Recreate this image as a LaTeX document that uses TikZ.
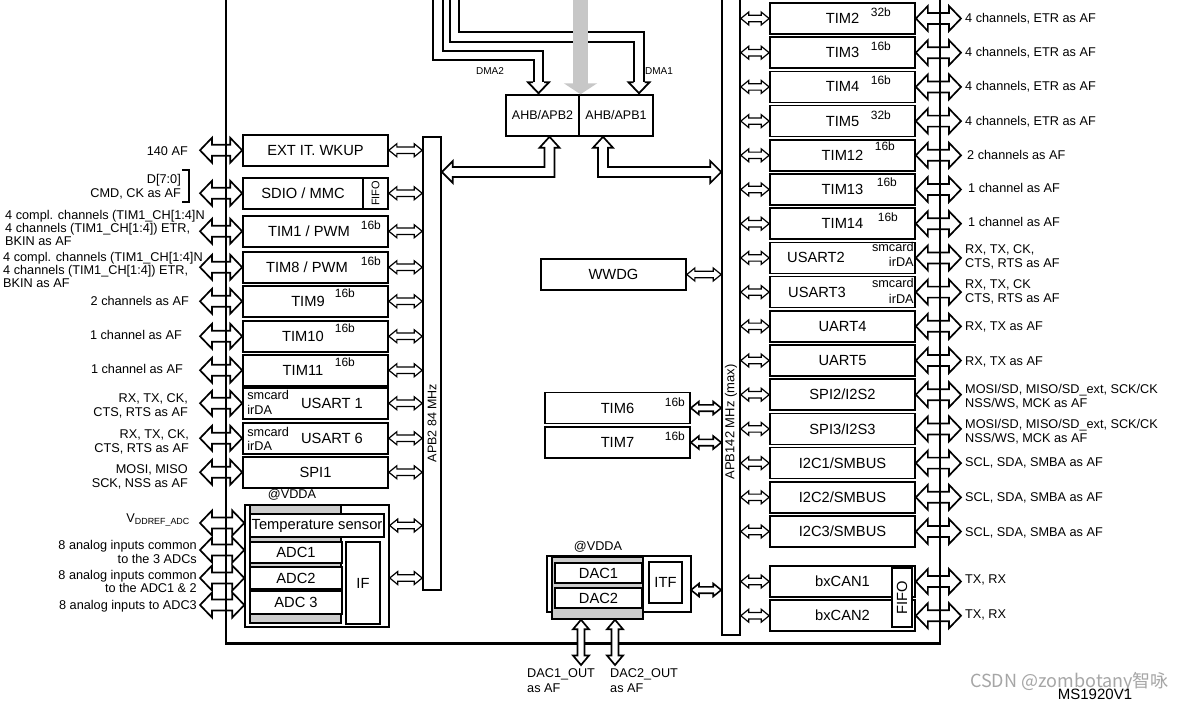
\documentclass[tikz,border=0pt]{standalone}
\usepackage{fontspec}
\setmainfont{Liberation Sans}
\newfontfamily\cjk{Noto Sans CJK SC}
\usetikzlibrary{positioning,calc,arrows.meta}

\newcommand{\lblfont}{\fontsize{12.7}{13.8}\selectfont}
\newcommand{\boxfont}{\fontsize{14.7}{16}\selectfont}

\tikzset{
  ahw/.store in=\dblHW, asw/.store in=\dblSW, ahl/.store in=\dblHL,
  ahw=12, asw=5.5, ahl=12,
  dbl/.style={to path={
    let \p1=(\tikztostart), \p2=(\tikztotarget),
        \n1={atan2(\y2-\y1,\x2-\x1)}, \n2={veclen(\x2-\x1,\y2-\y1)} in
    {[shift={(\p1)}, rotate=\n1]
      (0pt,0pt) -- ({\dblHL*1pt},{\dblHW*1pt}) -- ({\dblHL*1pt},{\dblSW*1pt})
      -- ({(\n2-\dblHL)*1pt},{\dblSW*1pt}) -- ({(\n2-\dblHL)*1pt},{\dblHW*1pt})
      -- ({\n2*1pt},0pt) -- ({(\n2-\dblHL)*1pt},{-\dblHW*1pt})
      -- ({(\n2-\dblHL)*1pt},{-\dblSW*1pt}) -- ({\dblHL*1pt},{-\dblSW*1pt})
      -- ({\dblHL*1pt},{-\dblHW*1pt}) -- cycle}
  }},
  pinarr/.style={dbl, ahw=12.5, asw=5.5, ahl=12, line width=1.7pt, fill=white},
  busarr/.style={dbl, ahw=6.5, asw=3.2, ahl=8, line width=1.2pt, fill=white},
  outarr/.style={dbl, ahw=8, asw=3.5, ahl=9.5, line width=1.7pt, fill=white},
  fat/.style={line width=1.7pt, fill=white},
  blk/.style={draw, line width=1.7pt, fill=white, minimum width=145, minimum height=31, inner sep=0pt, font=\boxfont},
  subbox/.style={draw, line width=1.5pt, fill=white, inner sep=0pt, font=\boxfont},
  graybk/.style={draw, line width=1.5pt, fill=black!20, inner sep=0pt},
  bar/.style={draw, line width=1.6pt, fill=white, inner sep=0pt, minimum width=18},
  lbl/.style={font=\lblfont, inner sep=0pt},
  sup/.style={font=\fontsize{12}{12}\selectfont, inner sep=0pt},
  rot/.style={rotate=90, font=\fontsize{12.5}{13}\selectfont, inner sep=0pt},
  dmaline/.style={double distance=7.8pt, line width=1.8pt},
  dmahead/.style={line width=1.8pt, fill=white},
}

\begin{document}
\begin{tikzpicture}[x=1pt, y=-1pt]
\fill[white] (0,0) rectangle (1190,702);
\useasboundingbox (0,0) rectangle (1190,702);

% free ends
\coordinate (pinL) at (200,0);
\coordinate (pinR) at (961,0);

% APB2 bus and its peripherals
\node[bar, minimum height=453] (apb2) at (432,363.5) {};
\node[rot] at (432,423) {APB2 84 MHz};

\node[blk] (ext) at (315.5,150.25) {EXT IT. WKUP};
\node[blk] (sdio) at (315.5,193.25) {SDIO / MMC\hspace*{25pt}};
\node[subbox, rotate=90, minimum width=31, minimum height=25, anchor=south, font=\fontsize{11}{11}\selectfont] (fifo1) at (sdio.east) {FIFO};
\node[blk] (tim1) at (315.5,231.25) {TIM1 / PWM\hspace*{13pt}};
\node[blk] (tim8) at (315.5,267.25) {TIM8 / PWM\hspace*{17pt}};
\node[blk] (tim9) at (315.5,301.25) {TIM9\hspace*{15pt}};
\node[blk] (tim10) at (315.5,336.25) {TIM10\hspace*{25pt}};
\node[blk] (tim11) at (315.5,370.25) {TIM11\hspace*{25pt}};
\node[blk] (usart1) at (315.5,403.25) {\hspace*{33pt}USART 1};
\node[blk] (usart6) at (315.5,438.25) {\hspace*{33pt}USART 6};
\node[blk] (spi1) at (315.5,472.25) {SPI1};

\node[sup] at ([shift={(-18,10)}]tim1.north east) {16b};
\node[sup] at ([shift={(-18,10)}]tim8.north east) {16b};
\node[sup] at ([shift={(-44,8)}]tim9.north east) {16b};
\node[sup] at ([shift={(-44,8)}]tim10.north east) {16b};
\node[sup] at ([shift={(-44,8)}]tim11.north east) {16b};
\node[lbl, anchor=west] at ([shift={(5,-8)}]usart1.west) {smcard};
\node[lbl, anchor=west] at ([shift={(5,7)}]usart1.west) {irDA};
\node[lbl, anchor=west] at ([shift={(5,-6)}]usart6.west) {smcard};
\node[lbl, anchor=west] at ([shift={(5,8)}]usart6.west) {irDA};

% ADC block
\node[lbl] at (292,495) {@VDDA};
\node[subbox, line width=1.4pt, minimum width=144, minimum height=122] (adcgrp) at (317,566) {};
\node[graybk, minimum width=91, minimum height=118] (adcgray) at (295.5,564) {};
\node[subbox, minimum width=134, minimum height=23] (temp) at (317,525.5) {Temperature sensor};
\node[subbox, minimum width=92, minimum height=21] (adc1) at (296,552.5) {ADC1};
\node[subbox, minimum width=92, minimum height=22] (adc2) at (296,578) {ADC2};
\node[subbox, minimum width=92, minimum height=23] (adc3) at (296,602.5) {ADC 3};
\node[subbox, minimum width=34, minimum height=82] (adcif) at (363,583) {IF};

% left pin labels
\node[lbl, anchor=east] (l1) at (188,151) {140 AF};
\node[lbl, anchor=east, align=right] (l2) at (181,187) {D[7:0]\\CMD, CK as AF};
\draw[line width=1.2pt] (182,170) -| (189,202) -- (182,202);
\node[lbl, anchor=west, align=left, font=\fontsize{12.7}{12.6}\selectfont] (l3) at (5,228) {4 compl. channels (TIM1\_CH[1:4]N\\4 channels (TIM1\_CH[1:4]) ETR,\\BKIN as AF};
\node[lbl, anchor=west, align=left, font=\fontsize{12.7}{12.6}\selectfont] (l4) at (3,270) {4 compl. channels (TIM1\_CH[1:4]N\\4 channels (TIM1\_CH[1:4]) ETR,\\BKIN as AF};
\node[lbl, anchor=east] (l5) at (189,301) {2 channels as AF};
\node[lbl, anchor=east] (l6) at (182,335) {1 channel as AF};
\node[lbl, anchor=east] (l7) at (183,369) {1 channel as AF};
\node[lbl, anchor=east, align=right] (l8) at (188,406) {RX, TX, CK,\\CTS, RTS as AF};
\node[lbl, anchor=east, align=right] (l9) at (189,442) {RX, TX, CK,\\CTS, RTS as AF};
\node[lbl, anchor=east, align=right] (l10) at (188,476.5) {MOSI, MISO\\SCK, NSS as AF};
\node[lbl, anchor=east] (l11) at (190,520) {V\textsubscript{DDREF\_ADC}};
\node[lbl, anchor=east, align=right] (l12) at (197,552) {8 analog inputs common\\to the 3 ADCs};
\node[lbl, anchor=east, align=right] (l13) at (197,581.5) {8 analog inputs common\\to the ADC1 \& 2};
\node[lbl, anchor=east] (l14) at (197,606) {8 analog inputs to ADC3};

\coordinate (vref) at (200,523);
\coordinate (ain1) at (200,550);
\coordinate (ain2) at (200,578);
\coordinate (ain3) at (200,605);

% AHB bridges
\node[subbox, minimum width=73, minimum height=41, font=\fontsize{12.5}{13}\selectfont] (ahb2) at (542.5,115.5) {AHB/APB2};
\node[subbox, minimum width=74, minimum height=41, font=\fontsize{12.5}{13}\selectfont] (ahb1) at (616,115.5) {AHB/APB1};
\coordinate (ahbk2) at (549.5,172);
\coordinate (ahbk1) at (603,172);

% APB1 bus and its peripherals
\node[bar, minimum height=640] (apb1) at (731,315) {};
\node[rot, font=\fontsize{13}{13}\selectfont] at (731,422) {APB142 MHz (max)};

\node[blk] (tim2) at (842.5,18.5) {TIM2};
\node[blk, below=1.5pt of tim2] (tim3) {TIM3};
\node[blk, below=1.5pt of tim3] (tim4) {TIM4};
\node[blk, below=1.5pt of tim4] (tim5) {TIM5};
\node[blk, below=1.5pt of tim5] (tim12) {TIM12};
\node[blk, below=1.5pt of tim12] (tim13) {TIM13};
\node[blk, below=1.5pt of tim13] (tim14) {TIM14};
\node[blk, below=1.5pt of tim14] (usart2) {USART2\hspace*{53pt}};
\node[blk, below=1.5pt of usart2] (usart3) {USART3\hspace*{51pt}};
\node[blk, below=1.5pt of usart3] (uart4) {UART4};
\node[blk, below=1.5pt of uart4] (uart5) {UART5};
\node[blk, below=1.5pt of uart5] (spi2) {SPI2/I2S2};
\node[blk, below=1.5pt of spi2] (spi3) {SPI3/I2S3};
\node[blk, below=1.5pt of spi3] (i2c1) {I2C1/SMBUS};
\node[blk, below=1.5pt of i2c1] (i2c2) {I2C2/SMBUS};
\node[blk, below=1.5pt of i2c2] (i2c3) {I2C3/SMBUS};
\node[blk] (can1) at (842.5,581.5) {bxCAN1};
\node[blk, below=1.5pt of can1] (can2) {bxCAN2};
\node[subbox, rotate=90, minimum width=59, minimum height=20] (fifo2) at (902,597.5) {FIFO};

\node[sup] at ([shift={(-35,10)}]tim2.north east) {32b};
\node[sup] at ([shift={(-35,9.5)}]tim3.north east) {16b};
\node[sup] at ([shift={(-35,9.5)}]tim4.north east) {16b};
\node[sup] at ([shift={(-35,10)}]tim5.north east) {32b};
\node[sup] at ([shift={(-31,7.5)}]tim12.north east) {16b};
\node[sup] at ([shift={(-29,9)}]tim13.north east) {16b};
\node[sup] at ([shift={(-28,9.5)}]tim14.north east) {16b};
\node[lbl, anchor=east] at ([shift={(-2,-11)}]usart2.east) {smcard};
\node[lbl, anchor=east] at ([shift={(-2,4)}]usart2.east) {irDA};
\node[lbl, anchor=east] at ([shift={(-2,-9)}]usart3.east) {smcard};
\node[lbl, anchor=east] at ([shift={(-2,7)}]usart3.east) {irDA};

% right pin labels
\node[lbl, anchor=west] at (965,19) {4 channels, ETR as AF};
\node[lbl, anchor=west] at (965,53) {4 channels, ETR as AF};
\node[lbl, anchor=west] at (965,87) {4 channels, ETR as AF};
\node[lbl, anchor=west] at (965,122) {4 channels, ETR as AF};
\node[lbl, anchor=west] at (967,155) {2 channels as AF};
\node[lbl, anchor=west] at (968,188) {1 channel as AF};
\node[lbl, anchor=west] at (968,222) {1 channel as AF};
\node[lbl, anchor=west, align=left] at (965,256.5) {RX, TX, CK,\\CTS, RTS as AF};
\node[lbl, anchor=west, align=left] at (965,292) {RX, TX, CK\\CTS, RTS as AF};
\node[lbl, anchor=west] at (965,327) {RX, TX as AF};
\node[lbl, anchor=west] at (965,362) {RX, TX as AF};
\node[lbl, anchor=west, align=left] at (965,397) {MOSI/SD, MISO/SD\_ext, SCK/CK\\NSS/WS, MCK as AF};
\node[lbl, anchor=west, align=left] at (965,432) {MOSI/SD, MISO/SD\_ext, SCK/CK\\NSS/WS, MCK as AF};
\node[lbl, anchor=west] at (965,463) {SCL, SDA, SMBA as AF};
\node[lbl, anchor=west] at (965,498) {SCL, SDA, SMBA as AF};
\node[lbl, anchor=west] at (965,533) {SCL, SDA, SMBA as AF};
\node[lbl, anchor=west] at (965,580) {TX, RX};
\node[lbl, anchor=west] at (965,615) {TX, RX};

% middle column
\node[blk] (wwdg) at (613.5,274.5) {WWDG};
\node[blk] (tim6) at (617.5,408) {TIM6};
\node[blk] (tim7) at (617.5,442.5) {TIM7};
\node[sup] at ([shift={(-16,10.5)}]tim6.north east) {16b};
\node[sup] at ([shift={(-16,10.5)}]tim7.north east) {16b};

% DAC block
\node[lbl] at (598,547) {@VDDA};
\node[subbox, line width=1.4pt, minimum width=144, minimum height=56] (dacgrp) at (619,584) {};
\node[graybk, minimum width=91, minimum height=62] (dacgray) at (597.5,588) {};
\node[subbox, minimum width=87, minimum height=20] (dac1) at (598.5,573) {DAC1};
\node[subbox, minimum width=87, minimum height=20] (dac2) at (598.5,598) {DAC2};
\node[subbox, minimum width=33, minimum height=41] (itf) at (665.5,582.5) {ITF};
\coordinate (dacbus) at (691,590);
\coordinate (dac1o) at (581,665);
\coordinate (dac2o) at (615,665);
\node[lbl, anchor=north west, align=left, font=\fontsize{12.7}{15.5}\selectfont] at (527,668) {DAC1\_OUT\\as AF};
\node[lbl, anchor=north west, align=left, font=\fontsize{12.7}{15.5}\selectfont] at (610,668) {DAC2\_OUT\\as AF};

% DMA paths and the bus matrix arrow
\coordinate (dma2top) at (438,-5);
\coordinate (dma2k) at (538.5,55.5);
\coordinate (dma1top) at (454.5,-5);
\coordinate (dma1k) at (639,37);
\coordinate (grtop) at (580.5,-5);
\draw[dmaline] (dma2top) |- (dma2k) -- ($(dma2k |- ahb2.north)+(0,-12)$);
\draw[dmahead] ($(dma2k |- ahb2.north)+(-5.5,-12)$) -- ++(-5,0) -- ++(10.5,11) -- ++(10.5,-11) -- ++(-5,0);
\draw[dmaline] (dma1top) |- (dma1k) -- ($(dma1k |- ahb1.north)+(0,-12)$);
\draw[dmahead] ($(dma1k |- ahb1.north)+(-5.5,-12)$) -- ++(-5,0) -- ++(10.5,11) -- ++(10.5,-11) -- ++(-5,0);
\draw[black!22, line width=15pt, -{Triangle[width=33pt,length=11pt]}] (grtop) -- (grtop |- ahb2.north);
\node[font=\fontsize{10}{10}\selectfont] at (490,71) {DMA2};
\node[font=\fontsize{10}{10}\selectfont] at (659,71) {DMA1};

% bridges to the APB buses
\draw[fat] ([xshift=7pt]ahb2.south) -- ++(10,11) -- ++(-5,0) |- ($(apb2.east |- ahbk2)+(11,5)$)
  -- ++(0,6) -- (apb2.east |- ahbk2) -- ++(11,-11) -- ++(0,6)
  -| ($([xshift=7pt]ahb2.south)+(-5,11)$) -- ++(-5,0) -- cycle;
\draw[fat] ([xshift=-13pt]ahb1.south) -- ++(10,11) -- ++(-5,0) |- ($(apb1.west |- ahbk1)+(-11,-5)$)
  -- ++(0,-6) -- (apb1.west |- ahbk1) -- ++(-11,11) -- ++(0,-6)
  -| ($([xshift=-13pt]ahb1.south)+(-5,11)$) -- ++(-5,0) -- cycle;

% peripheral to bus arrows
\draw[busarr] (ext.east) to (ext.east -| apb2.west);
\draw[busarr] (sdio.east) to (sdio.east -| apb2.west);
\draw[busarr] (tim1.east) to (tim1.east -| apb2.west);
\draw[busarr] (tim8.east) to (tim8.east -| apb2.west);
\draw[busarr] (tim9.east) to (tim9.east -| apb2.west);
\draw[busarr] (tim10.east) to (tim10.east -| apb2.west);
\draw[busarr] (tim11.east) to (tim11.east -| apb2.west);
\draw[busarr] (usart1.east) to (usart1.east -| apb2.west);
\draw[busarr] (usart6.east) to (usart6.east -| apb2.west);
\draw[busarr] (spi1.east) to (spi1.east -| apb2.west);
\draw[busarr] (temp.east -| adcgrp.east) to (temp.east -| apb2.west);
\draw[busarr] (adcgrp.east |- adc2.center) to (adc2.center -| apb2.west);

\draw[busarr] (apb1.east |- tim2.west) to (tim2.west);
\draw[busarr] (apb1.east |- tim3.west) to (tim3.west);
\draw[busarr] (apb1.east |- tim4.west) to (tim4.west);
\draw[busarr] (apb1.east |- tim5.west) to (tim5.west);
\draw[busarr] (apb1.east |- tim12.west) to (tim12.west);
\draw[busarr] (apb1.east |- tim13.west) to (tim13.west);
\draw[busarr] (apb1.east |- tim14.west) to (tim14.west);
\draw[busarr] (apb1.east |- usart2.west) to (usart2.west);
\draw[busarr] (apb1.east |- usart3.west) to (usart3.west);
\draw[busarr] (apb1.east |- uart4.west) to (uart4.west);
\draw[busarr] (apb1.east |- uart5.west) to (uart5.west);
\draw[busarr] (apb1.east |- spi2.west) to (spi2.west);
\draw[busarr] (apb1.east |- spi3.west) to (spi3.west);
\draw[busarr] (apb1.east |- i2c1.west) to (i2c1.west);
\draw[busarr] (apb1.east |- i2c2.west) to (i2c2.west);
\draw[busarr] (apb1.east |- i2c3.west) to (i2c3.west);
\draw[busarr] (apb1.east |- can1.west) to (can1.west);
\draw[busarr] (apb1.east |- can2.west) to (can2.west);
\draw[busarr] (wwdg.east) to (wwdg.east -| apb1.west);
\draw[busarr, line width=1.6pt] (tim6.east) to (tim6.east -| apb1.west);
\draw[busarr, line width=1.6pt] (tim7.east) to (tim7.east -| apb1.west);
\draw[busarr, line width=1.6pt] (dacbus) to (dacbus -| apb1.west);

% pins
\draw[pinarr] (ext.west -| pinL) to (ext.west);
\draw[pinarr] (sdio.west -| pinL) to (sdio.west);
\draw[pinarr] (tim1.west -| pinL) to (tim1.west);
\draw[pinarr] (tim8.west -| pinL) to (tim8.west);
\draw[pinarr] (tim9.west -| pinL) to (tim9.west);
\draw[pinarr] (tim10.west -| pinL) to (tim10.west);
\draw[pinarr] (tim11.west -| pinL) to (tim11.west);
\draw[pinarr] (usart1.west -| pinL) to (usart1.west);
\draw[pinarr] (usart6.west -| pinL) to (usart6.west);
\draw[pinarr] (spi1.west -| pinL) to (spi1.west);
\draw[pinarr] (vref) to (vref -| adcgrp.west);
\draw[pinarr] (ain1) to (ain1 -| adcgrp.west);
\draw[pinarr] (ain2) to (ain2 -| adcgrp.west);
\draw[pinarr] (ain3) to (ain3 -| adcgrp.west);

\draw[pinarr] (tim2.east) to (tim2.east -| pinR);
\draw[pinarr] (tim3.east) to (tim3.east -| pinR);
\draw[pinarr] (tim4.east) to (tim4.east -| pinR);
\draw[pinarr] (tim5.east) to (tim5.east -| pinR);
\draw[pinarr] (tim12.east) to (tim12.east -| pinR);
\draw[pinarr] (tim13.east) to (tim13.east -| pinR);
\draw[pinarr] (tim14.east) to (tim14.east -| pinR);
\draw[pinarr] (usart2.east) to (usart2.east -| pinR);
\draw[pinarr] (usart3.east) to (usart3.east -| pinR);
\draw[pinarr] (uart4.east) to (uart4.east -| pinR);
\draw[pinarr] (uart5.east) to (uart5.east -| pinR);
\draw[pinarr] (spi2.east) to (spi2.east -| pinR);
\draw[pinarr] (spi3.east) to (spi3.east -| pinR);
\draw[pinarr] (i2c1.east) to (i2c1.east -| pinR);
\draw[pinarr] (i2c2.east) to (i2c2.east -| pinR);
\draw[pinarr] (i2c3.east) to (i2c3.east -| pinR);
\draw[pinarr] (can1.east) to (can1.east -| pinR);
\draw[pinarr] (can2.east) to (can2.east -| pinR);

% outer frame with the two pin buses
\draw[line width=2.4pt] (226,-5) -- (226,643.5) -- (940,643.5) -- (940,-5);

\draw[outarr] (dacgray.south -| dac1o) to (dac1o);
\draw[outarr] (dacgray.south -| dac2o) to (dac2o);

\node[font=\cjk\fontsize{18}{18}\selectfont, text=black!35, anchor=west, inner sep=0pt] (wm) at (970,682) {CSDN @zombotany智咏};
\node[font=\fontsize{15}{15}\selectfont, anchor=base, inner sep=0pt] (msid) at (1095,699.5) {MS1920V1};

\end{tikzpicture}
\end{document}
